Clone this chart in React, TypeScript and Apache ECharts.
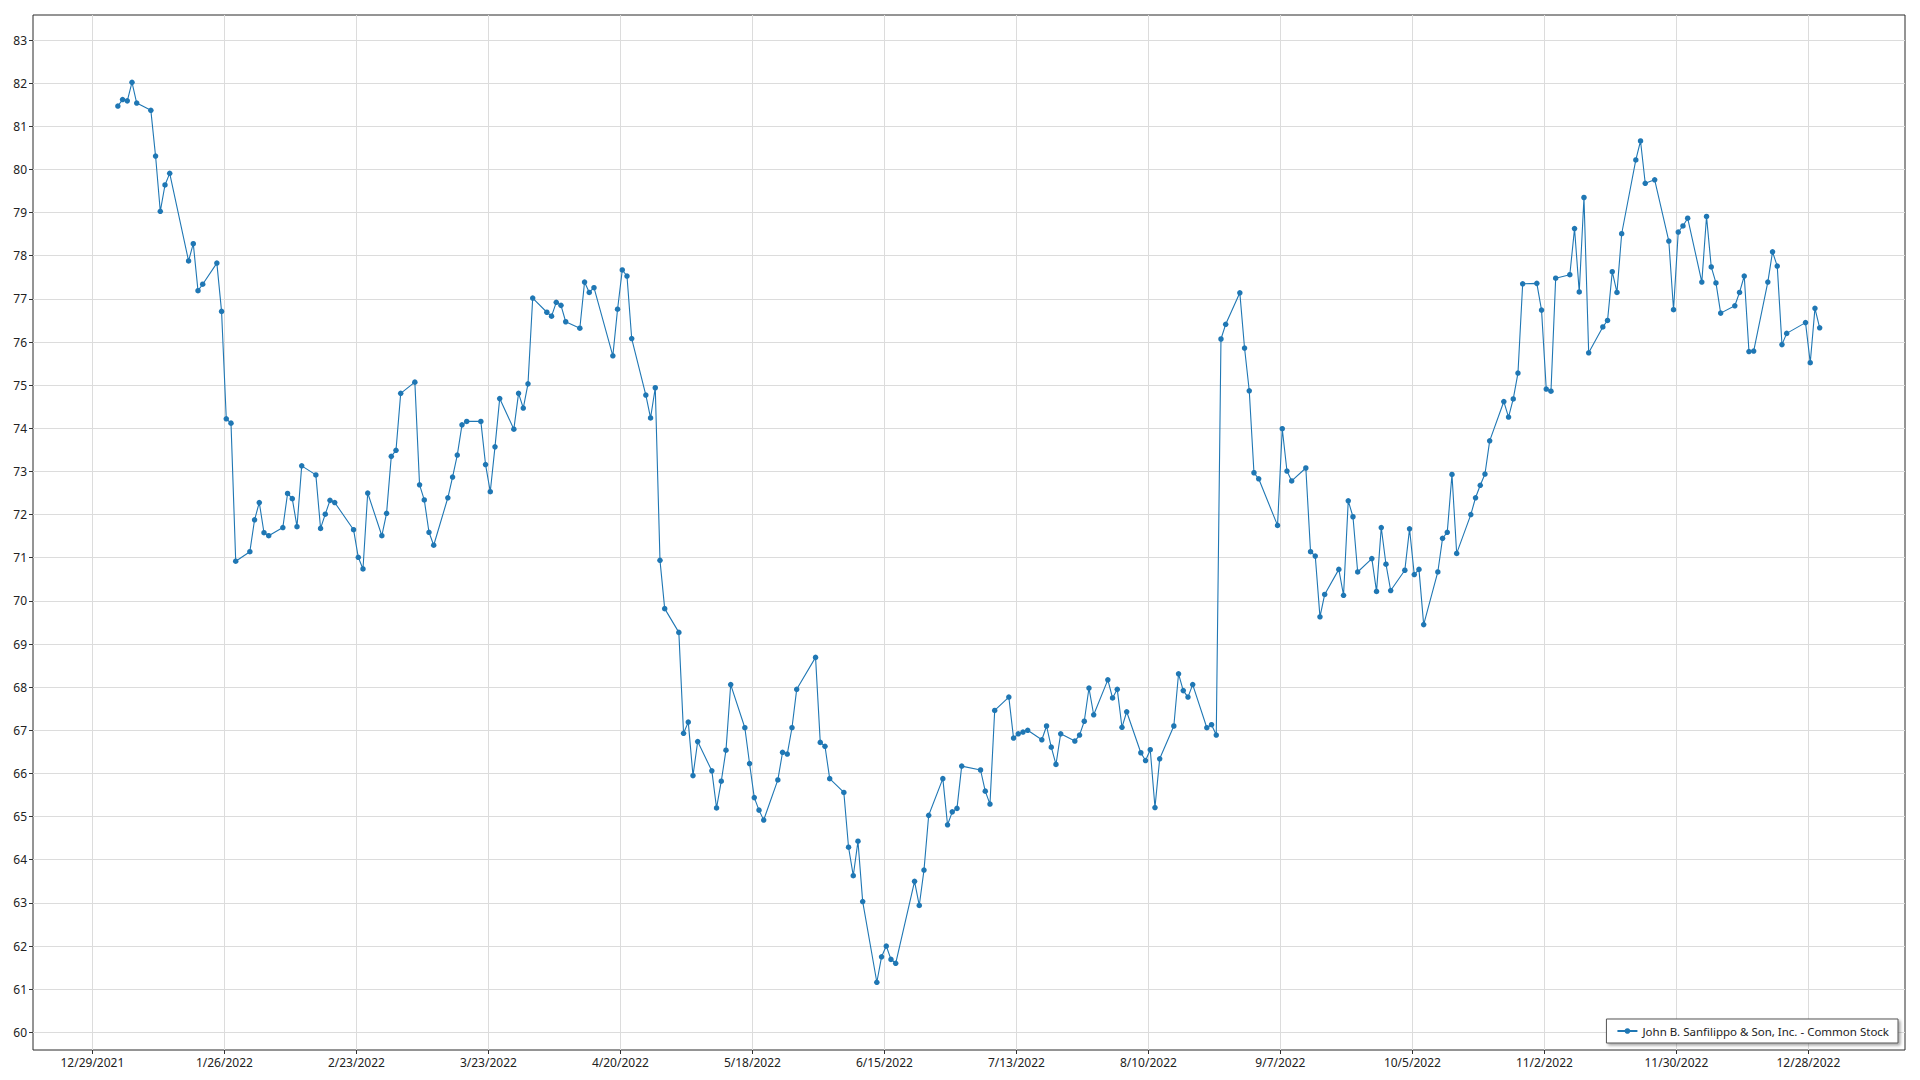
import React, { useEffect, useRef } from 'react';
import * as echarts from 'echarts';

const SERIES_NAME = 'John B. Sanfilippo & Son, Inc. - Common Stock';

const tradingDates: string[] = [
  '2022-01-03', '2022-01-04', '2022-01-05', '2022-01-06', '2022-01-07', '2022-01-10', '2022-01-11', '2022-01-12', '2022-01-13', '2022-01-14',
  '2022-01-18', '2022-01-19', '2022-01-20', '2022-01-21', '2022-01-24', '2022-01-25', '2022-01-26', '2022-01-27', '2022-01-28', '2022-01-31',
  '2022-02-01', '2022-02-02', '2022-02-03', '2022-02-04', '2022-02-07', '2022-02-08', '2022-02-09', '2022-02-10', '2022-02-11', '2022-02-14',
  '2022-02-15', '2022-02-16', '2022-02-17', '2022-02-18', '2022-02-22', '2022-02-23', '2022-02-24', '2022-02-25', '2022-02-28',
  '2022-03-01', '2022-03-02', '2022-03-03', '2022-03-04', '2022-03-07', '2022-03-08', '2022-03-09', '2022-03-10', '2022-03-11', '2022-03-14',
  '2022-03-15', '2022-03-16', '2022-03-17', '2022-03-18', '2022-03-21', '2022-03-22', '2022-03-23', '2022-03-24', '2022-03-25', '2022-03-28',
  '2022-03-29', '2022-03-30', '2022-03-31',
  '2022-04-01', '2022-04-04', '2022-04-05', '2022-04-06', '2022-04-07', '2022-04-08', '2022-04-11', '2022-04-12', '2022-04-13', '2022-04-14',
  '2022-04-18', '2022-04-19', '2022-04-20', '2022-04-21', '2022-04-22', '2022-04-25', '2022-04-26', '2022-04-27', '2022-04-28', '2022-04-29',
  '2022-05-02', '2022-05-03', '2022-05-04', '2022-05-05', '2022-05-06', '2022-05-09', '2022-05-10', '2022-05-11', '2022-05-12', '2022-05-13',
  '2022-05-16', '2022-05-17', '2022-05-18', '2022-05-19', '2022-05-20', '2022-05-23', '2022-05-24', '2022-05-25', '2022-05-26', '2022-05-27',
  '2022-05-31',
  '2022-06-01', '2022-06-02', '2022-06-03', '2022-06-06', '2022-06-07', '2022-06-08', '2022-06-09', '2022-06-10', '2022-06-13', '2022-06-14',
  '2022-06-15', '2022-06-16', '2022-06-17', '2022-06-21', '2022-06-22', '2022-06-23', '2022-06-24', '2022-06-27', '2022-06-28', '2022-06-29',
  '2022-06-30',
  '2022-07-01', '2022-07-05', '2022-07-06', '2022-07-07', '2022-07-08', '2022-07-11', '2022-07-12', '2022-07-13', '2022-07-14', '2022-07-15',
  '2022-07-18', '2022-07-19', '2022-07-20', '2022-07-21', '2022-07-22', '2022-07-25', '2022-07-26', '2022-07-27', '2022-07-28', '2022-07-29',
  '2022-08-01', '2022-08-02', '2022-08-03', '2022-08-04', '2022-08-05', '2022-08-08', '2022-08-09', '2022-08-10', '2022-08-11', '2022-08-12',
  '2022-08-15', '2022-08-16', '2022-08-17', '2022-08-18', '2022-08-19', '2022-08-22', '2022-08-23', '2022-08-24', '2022-08-25', '2022-08-26',
  '2022-08-29', '2022-08-30', '2022-08-31',
  '2022-09-01', '2022-09-02', '2022-09-06', '2022-09-07', '2022-09-08', '2022-09-09', '2022-09-12', '2022-09-13', '2022-09-14', '2022-09-15',
  '2022-09-16', '2022-09-19', '2022-09-20', '2022-09-21', '2022-09-22', '2022-09-23', '2022-09-26', '2022-09-27', '2022-09-28', '2022-09-29',
  '2022-09-30',
  '2022-10-03', '2022-10-04', '2022-10-05', '2022-10-06', '2022-10-07', '2022-10-10', '2022-10-11', '2022-10-12', '2022-10-13', '2022-10-14',
  '2022-10-17', '2022-10-18', '2022-10-19', '2022-10-20', '2022-10-21', '2022-10-24', '2022-10-25', '2022-10-26', '2022-10-27', '2022-10-28',
  '2022-10-31',
  '2022-11-01', '2022-11-02', '2022-11-03', '2022-11-04', '2022-11-07', '2022-11-08', '2022-11-09', '2022-11-10', '2022-11-11', '2022-11-14',
  '2022-11-15', '2022-11-16', '2022-11-17', '2022-11-18', '2022-11-21', '2022-11-22', '2022-11-23', '2022-11-25', '2022-11-28', '2022-11-29',
  '2022-11-30',
  '2022-12-01', '2022-12-02', '2022-12-05', '2022-12-06', '2022-12-07', '2022-12-08', '2022-12-09', '2022-12-12', '2022-12-13', '2022-12-14',
  '2022-12-15', '2022-12-16', '2022-12-19', '2022-12-20', '2022-12-21', '2022-12-22', '2022-12-23', '2022-12-27', '2022-12-28', '2022-12-29',
  '2022-12-30',
];

const closePrices: number[] = [
  81.47, 81.62, 81.59, 82.02, 81.54, 81.37, 80.31, 79.03, 79.64, 79.91,
  77.88, 78.28, 77.19, 77.34, 77.83, 76.71, 74.22, 74.12, 70.92, 71.14,
  71.88, 72.28, 71.58, 71.51, 71.70, 72.49, 72.37, 71.72, 73.13, 72.92,
  71.68, 72.01, 72.33, 72.28, 71.65, 71.01, 70.74, 72.50, 71.51,
  72.03, 73.35, 73.49, 74.81, 75.07, 72.69, 72.34, 71.59, 71.29, 72.39,
  72.87, 73.38, 74.08, 74.16, 74.16, 73.16, 72.53, 73.57, 74.69, 73.98,
  74.81, 74.47, 75.03,
  77.02, 76.69, 76.60, 76.92, 76.85, 76.47, 76.32, 77.39, 77.15, 77.26,
  75.68, 76.76, 77.67, 77.53, 76.08, 74.77, 74.24, 74.94, 70.94, 69.82,
  69.27, 66.93, 67.19, 65.95, 66.74, 66.06, 65.20, 65.82, 66.54, 68.06,
  67.06, 66.23, 65.44, 65.15, 64.92, 65.85, 66.49, 66.45, 67.06, 67.95,
  68.69,
  66.72, 66.63, 65.88, 65.56, 64.29, 63.63, 64.43, 63.03, 61.16, 61.75,
  62.00, 61.69, 61.60, 63.50, 62.94, 63.76, 65.03, 65.88, 64.81, 65.11,
  65.19,
  66.17, 66.08, 65.59, 65.29, 67.46, 67.77, 66.82, 66.92, 66.96, 67.00,
  66.78, 67.10, 66.61, 66.21, 66.92, 66.75, 66.89, 67.21, 67.98, 67.36,
  68.17, 67.75, 67.95, 67.07, 67.43, 66.48, 66.30, 66.55, 65.21, 66.34,
  67.10, 68.31, 67.92, 67.77, 68.06, 67.06, 67.13, 66.89, 76.07, 76.41,
  77.14, 75.86, 74.87,
  72.97, 72.83, 71.75, 73.99, 73.01, 72.78, 73.08, 71.14, 71.04, 69.63,
  70.15, 70.73, 70.13, 72.32, 71.95, 70.67, 70.98, 70.22, 71.70, 70.85,
  70.24,
  70.71, 71.67, 70.61, 70.73, 69.45, 70.67, 71.45, 71.59, 72.93, 71.10,
  72.00, 72.39, 72.68, 72.94, 73.71, 74.62, 74.26, 74.68, 75.28, 77.35,
  77.36,
  76.74, 74.91, 74.86, 77.48, 77.56, 78.63, 77.16, 79.35, 75.75, 76.35,
  76.50, 77.63, 77.15, 78.51, 80.22, 80.66, 79.68, 79.76, 78.34, 76.75,
  78.55,
  78.69, 78.87, 77.39, 78.91, 77.74, 77.37, 76.67, 76.84, 77.15, 77.53,
  75.78, 75.79, 77.39, 78.09, 77.76, 75.94, 76.20, 76.45, 75.52, 76.78,
  76.33,
];

const xTickLabels: string[] = [
  '12/29/2021', '1/26/2022', '2/23/2022', '3/23/2022', '4/20/2022', '5/18/2022', '6/15/2022',
  '7/13/2022', '8/10/2022', '9/7/2022', '10/5/2022', '11/2/2022', '11/30/2022', '12/28/2022',
];

const yTickValues: number[] = [
  60, 61, 62, 63, 64, 65, 66, 67, 68, 69, 70, 71, 72, 73, 74, 75, 76, 77, 78, 79, 80, 81, 82, 83,
];

const DAY_MS = 86400000;
const ORIGIN = Date.UTC(2021, 11, 29);
// quotes are time-stamped during the trading day (fraction of a day after midnight)
const QUOTE_TIME_OF_DAY = 0.4;
const X_MIN = -12.6;
const X_MAX = 384.5;
const Y_MIN = 59.59;
const Y_MAX = 83.58;

const FONT = '"Noto Sans", "Open Sans", sans-serif';

function isoToDay(s: string): number {
  const [y, m, d] = s.split('-').map(Number);
  return Math.round((Date.UTC(y, m - 1, d) - ORIGIN) / DAY_MS);
}
function mdyToDay(s: string): number {
  const [m, d, y] = s.split('/').map(Number);
  return Math.round((Date.UTC(y, m - 1, d) - ORIGIN) / DAY_MS);
}
function dayToMdy(v: number): string {
  const dt = new Date(ORIGIN + Math.round(v) * DAY_MS);
  return `${dt.getUTCMonth() + 1}/${dt.getUTCDate()}/${dt.getUTCFullYear()}`;
}

export default function App() {
  const ref = useRef<HTMLDivElement>(null);

  useEffect(() => {
    if (!ref.current) return;
    const chart = echarts.init(ref.current, null, { renderer: 'svg' });
    const xTickDays = xTickLabels.map(mdyToDay);
    const seriesData = tradingDates.map((d, i) => [isoToDay(d) + QUOTE_TIME_OF_DAY, closePrices[i]]);

    chart.setOption({
      animation: false,
      backgroundColor: '#ffffff',
      textStyle: { fontFamily: FONT },
      grid: {
        left: 33,
        right: 15,
        top: 15,
        bottom: 30,
        show: true,
        borderColor: '#2b2b2b',
        borderWidth: 1,
        backgroundColor: 'transparent',
        containLabel: false,
        outerBoundsMode: 'none',
      },
      legend: {
        show: true,
        data: [SERIES_NAME],
        right: 22,
        bottom: 37,
        orient: 'horizontal',
        backgroundColor: '#ffffff',
        borderColor: '#555555',
        borderWidth: 1,
        borderRadius: 0,
        padding: [6, 9, 6, 10],
        shadowColor: 'rgba(0,0,0,0.35)',
        shadowBlur: 3,
        shadowOffsetX: 2,
        shadowOffsetY: 2,
        itemWidth: 20,
        itemHeight: 7,
        itemGap: 5,
        textStyle: { fontSize: 11.5, color: '#222222', fontFamily: FONT },
      },
      xAxis: {
        type: 'value',
        min: X_MIN,
        max: X_MAX,
        axisLine: { show: false, onZero: false },
        axisTick: {
          show: true,
          customValues: xTickDays,
          length: 4,
          lineStyle: { color: '#333333' },
        },
        axisLabel: {
          customValues: xTickDays,
          formatter: (v: number) => dayToMdy(v),
          fontSize: 12,
          color: '#222222',
          margin: 6,
          fontFamily: FONT,
        },
        splitLine: { show: true, lineStyle: { color: '#dcdcdc', width: 1 } },
      },
      yAxis: {
        type: 'value',
        min: Y_MIN,
        max: Y_MAX,
        axisLine: { show: false, onZero: false },
        axisTick: {
          show: true,
          customValues: yTickValues,
          length: 4,
          lineStyle: { color: '#333333' },
        },
        axisLabel: {
          customValues: yTickValues,
          formatter: (v: number) => String(Math.round(v)),
          fontSize: 12,
          color: '#222222',
          margin: 6,
          fontFamily: FONT,
        },
        splitLine: { show: true, lineStyle: { color: '#dcdcdc', width: 1 } },
      },
      series: [
        {
          name: SERIES_NAME,
          type: 'line',
          data: seriesData,
          symbol: 'circle',
          symbolSize: 5.5,
          showSymbol: true,
          lineStyle: { color: '#1f77b4', width: 1.1 },
          itemStyle: { color: '#1f77b4' },
          emphasis: { disabled: true },
        },
      ],
    });

    return () => chart.dispose();
  }, []);

  return (
    <div
      ref={ref}
      style={{ position: 'fixed', left: 0, top: 0, width: '1920px', height: '1080px', background: '#ffffff' }}
    />
  );
}
